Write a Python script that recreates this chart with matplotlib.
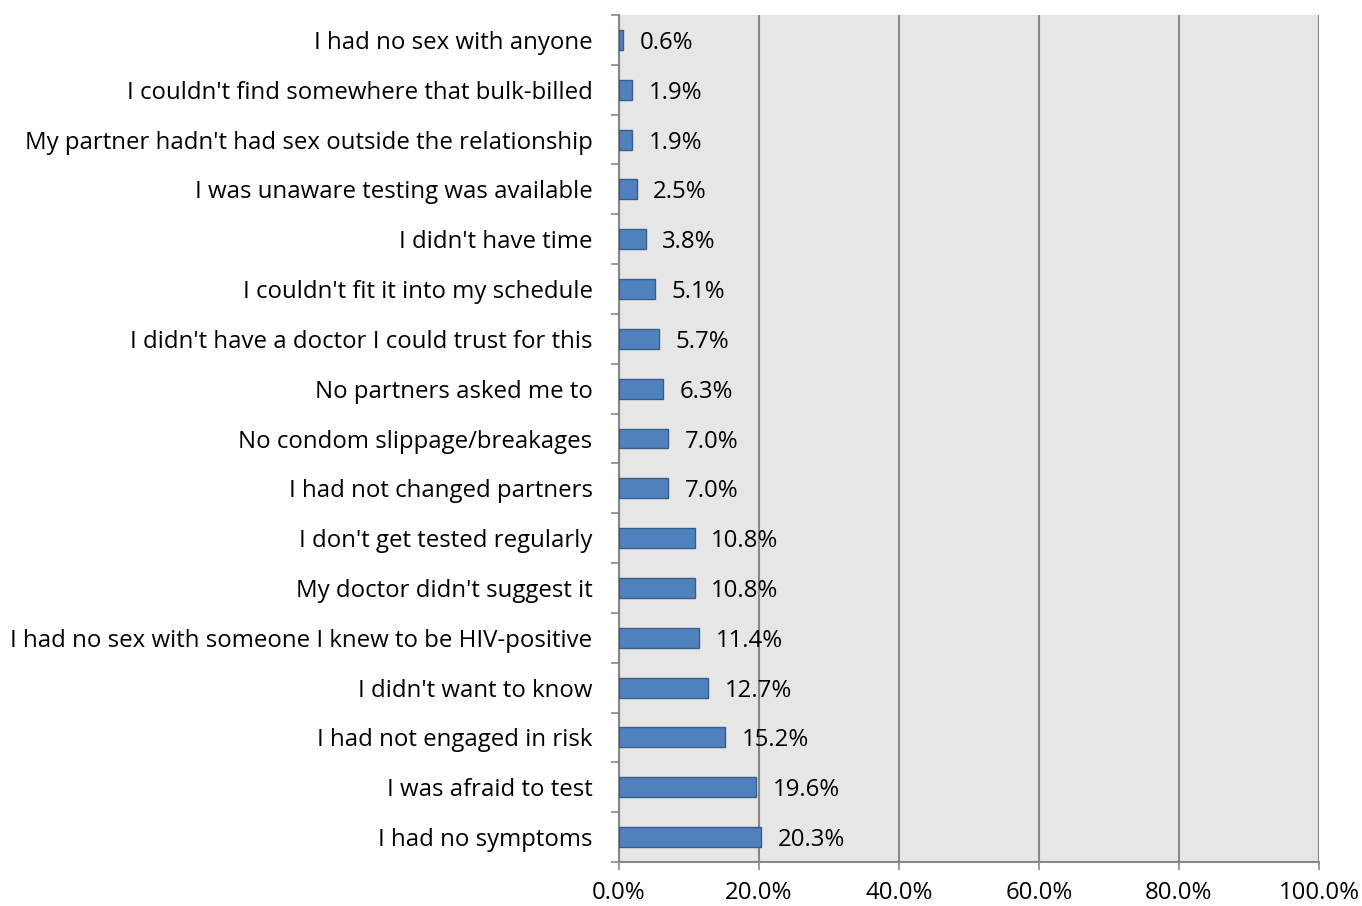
import numpy as np
import matplotlib.pyplot as plt
from matplotlib.ticker import FuncFormatter

# categories listed bottom to top
categories = [
    "I had no symptoms",
    "I was afraid to test",
    "I had not engaged in risk",
    "I didn't want to know",
    "I had no sex with someone I knew to be HIV-positive",
    "My doctor didn't suggest it",
    "I don't get tested regularly",
    "I had not changed partners",
    "No condom slippage/breakages",
    "No partners asked me to",
    "I didn't have a doctor I could trust for this",
    "I couldn't fit it into my schedule",
    "I didn't have time",
    "I was unaware testing was available",
    "My partner hadn't had sex outside the relationship",
    "I couldn't find somewhere that bulk-billed",
    "I had no sex with anyone",
]
values = [20.3, 19.6, 15.2, 12.7, 11.4, 10.8, 10.8, 7.0, 7.0, 6.3, 5.7, 5.1, 3.8, 2.5, 1.9, 1.9, 0.6]
x_ticks = [0, 20, 40, 60, 80, 100]

plt.rcParams["font.family"] = ["Open Sans", "DejaVu Sans"]
FS = 17.3

fig = plt.figure(figsize=(13.62, 9.06), dpi=100)
ax = fig.add_axes([619 / 1362, 44 / 906, 700 / 1362, 847 / 906])
ax.set_facecolor("#E6E6E6")

y = np.arange(len(categories))
ax.barh(y, values, height=0.4, color="#4F81BD", edgecolor="#385D8A", linewidth=1, zorder=3)

for yi, v in zip(y, values):
    ax.annotate(f"{v:.1f}%", (v, yi), xytext=(12, 0), textcoords="offset points",
                va="center_baseline", ha="left", fontsize=FS, color="black", zorder=4)

ax.set_xlim(0, 100)
ax.set_ylim(-0.5, len(categories) - 0.5)
ax.set_xticks(x_ticks)
ax.xaxis.set_major_formatter(FuncFormatter(lambda v, p: f"{v:.1f}%"))
ax.grid(axis="x", color="#878787", linewidth=1.5, zorder=1)

ax.set_yticks(y)
ax.set_yticklabels(categories, fontsize=FS)
ax.set_yticks(np.arange(len(categories) + 1) - 0.5, minor=True)
ax.tick_params(axis="y", which="major", length=0, pad=19)
ax.tick_params(axis="y", which="minor", length=6, color="#878787", width=1.2)
ax.tick_params(axis="x", length=6, color="#878787", width=1.2, labelsize=FS, pad=8)

for s in ["top", "right"]:
    ax.spines[s].set_visible(False)
for s in ["left", "bottom"]:
    ax.spines[s].set_color("#878787")
    ax.spines[s].set_linewidth(1.5)

fig.savefig("out.png", dpi=100)
